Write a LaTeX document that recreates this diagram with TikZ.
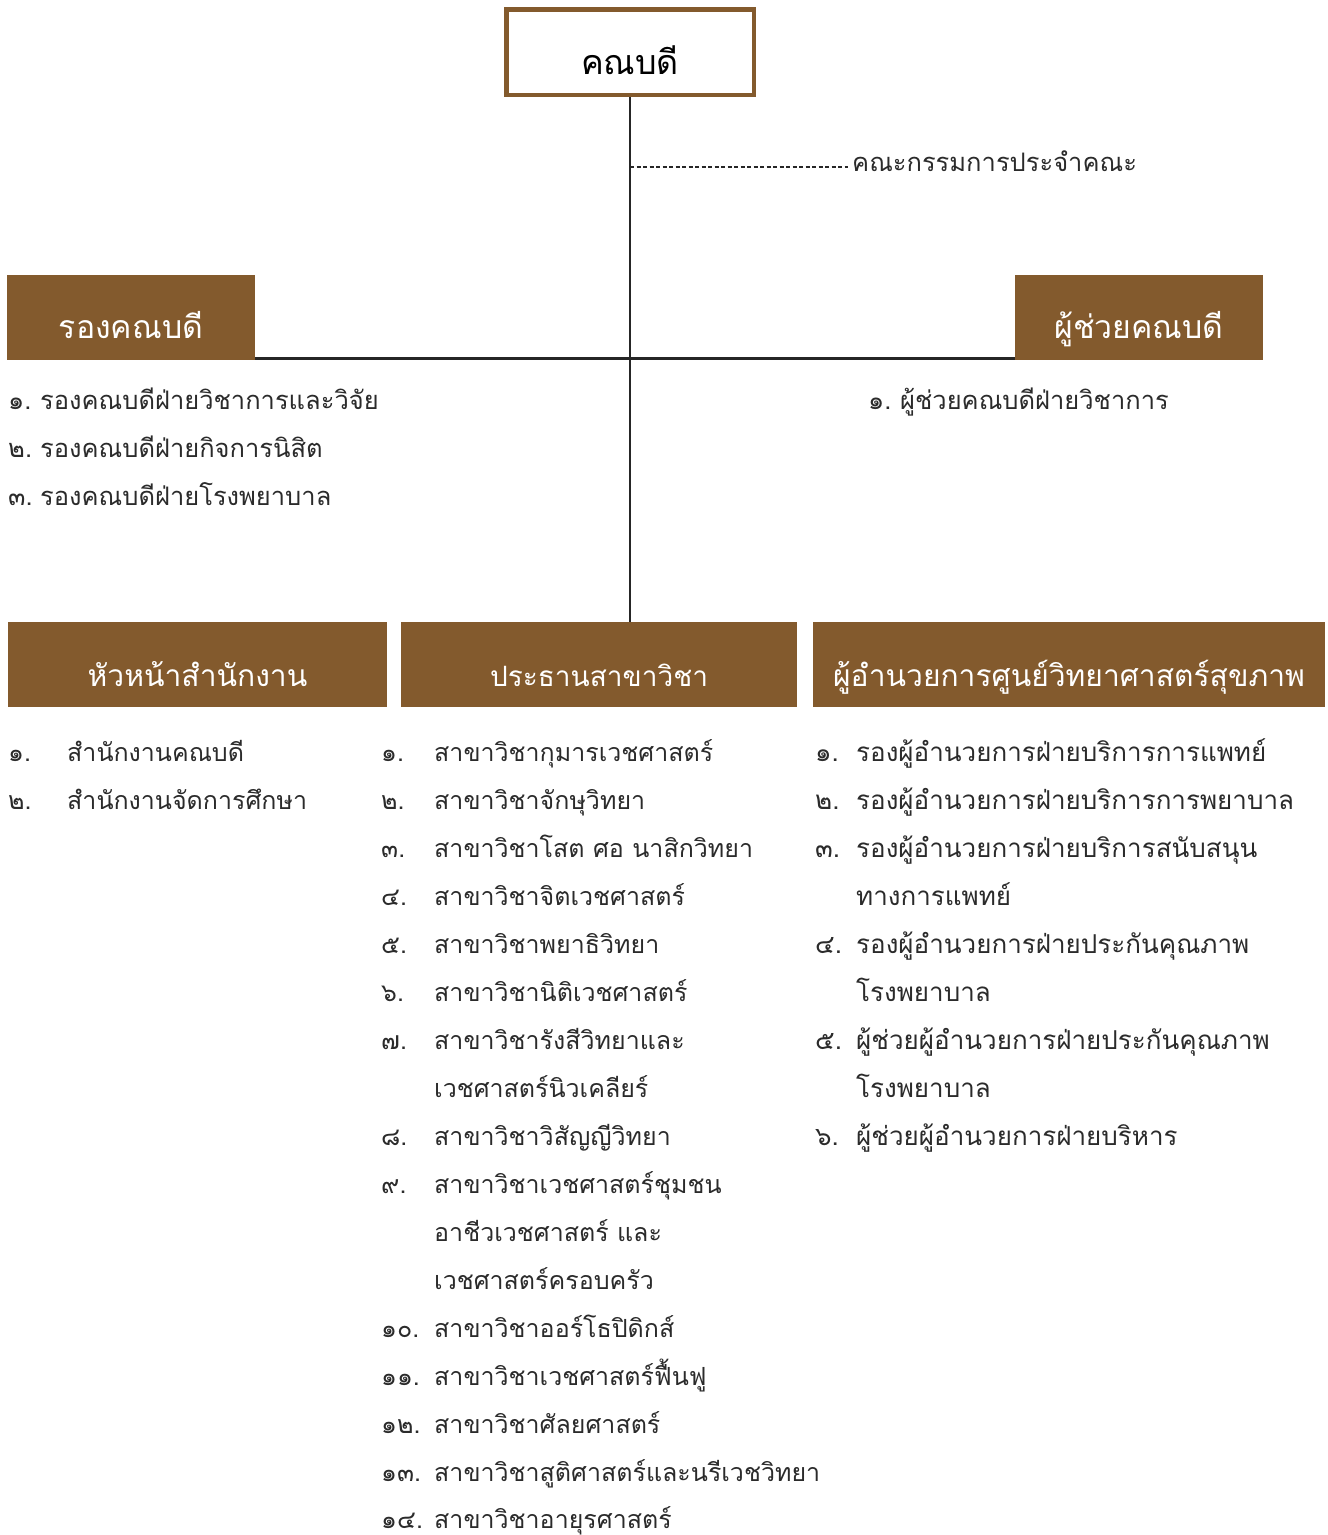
\documentclass[tikz,border=0pt]{standalone}
\usepackage{fontspec}
\newfontfamily\thai[Script=Thai]{Loma}
\definecolor{brn}{HTML}{835A2D}
\definecolor{txt}{HTML}{2B2B2B}
\definecolor{ln}{HTML}{262626}
\begin{document}
\begin{tikzpicture}[x=1pt,y=-1pt,
  hdr/.style={fill=brn, draw=none, minimum height=85, inner sep=0, anchor=north west},
  hlabel/.style={font=\thai\fontsize{30}{30}\selectfont, text=white, anchor=base, inner sep=0},
  itm/.style={font=\thai\fontsize{25}{25}\selectfont, text=txt, anchor=base west, inner sep=0},
  itmc/.style={font=\thai\fontsize{26}{26}\selectfont, text=txt, anchor=base west, inner sep=0},
  itmb/.style={font=\thai\fontsize{25.5}{25.5}\selectfont, text=txt, anchor=base west, inner sep=0},
  conn/.style={draw=ln, line width=1.6},
  hconn/.style={draw=ln, line width=2.4},
  dotconn/.style={draw=ln, line width=1.6, dash pattern=on 4pt off 2.5pt}]
\useasboundingbox (0,0) rectangle (1328,1535);

% top box
\node[draw=brn, line width=4.5, fill=white, minimum width=247.5, minimum height=85.5, inner sep=0] (dean) at (630,52) {};
\node[font=\thai\fontsize{34}{34}\selectfont, text=black, anchor=base, inner sep=0] (deanlbl) at (630,74) {คณบดี};

% committee
\node[itmb] (comm) at (852,171) {คณะกรรมการประจำคณะ};
\coordinate (dl) at (848,167);

% second level boxes
\node[hdr, minimum width=248] (vdean) at (7,275) {};
\node[hlabel, font=\thai\fontsize{32}{32}\selectfont] (vdeanlbl) at (131,338) {รองคณบดี};
\node[hdr, minimum width=248] (asst) at (1015,275) {};
\node[hlabel, font=\thai\fontsize{32}{32}\selectfont] (asstlbl) at (1139,338) {ผู้ช่วยคณบดี};

% third level boxes
\node[hdr, minimum width=379] (office) at (8,622) {};
\node[hlabel] (officelbl) at (197.5,686) {หัวหน้าสำนักงาน};
\node[hdr, minimum width=396] (prog) at (401,622) {};
\node[hlabel, font=\thai\fontsize{28}{28}\selectfont] (proglbl) at (599,686) {ประธานสาขาวิชา};
\node[hdr, minimum width=512] (center) at (813,622) {};
\node[hlabel] (centerlbl) at (1069,686) {ผู้อำนวยการศูนย์วิทยาศาสตร์สุขภาพ};

% connectors
\draw[conn] (dean.south) -- (dean.south |- prog.north);
\draw[hconn] ([yshift=2pt]vdean.south east) -- ([yshift=2pt]asst.south west);
\draw[dotconn] (dl -| dean.south) -- (dl);

% vice dean list
\node[itmb] (vd1n) at (8,409) {๑.};
\node[itmb] (vd1) at (40,409) {รองคณบดีฝ่ายวิชาการและวิจัย};
\node[itmb] (vd2n) at (8,457) {๒.};
\node[itmb] (vd2) at (40,457) {รองคณบดีฝ่ายกิจการนิสิต};
\node[itmb] (vd3n) at (8,505) {๓.};
\node[itmb] (vd3) at (40,505) {รองคณบดีฝ่ายโรงพยาบาล};
% assistant list
\node[itmb] (as1n) at (868,409) {๑.};
\node[itmb] (as1) at (900,409) {ผู้ช่วยคณบดีฝ่ายวิชาการ};

% column 1
\node[itm] (o1n) at (8,761) {๑.};
\node[itm] (o1t) at (67,761) {สำนักงานคณบดี};
\node[itm] (o2n) at (8,809) {๒.};
\node[itm] (o2t) at (67,809) {สำนักงานจัดการศึกษา};

% column 2
\node[itm] (p1n) at (381,761) {๑.};
\node[itm] (p1t) at (434,761) {สาขาวิชากุมารเวชศาสตร์};
\node[itm] (p2n) at (381,809) {๒.};
\node[itm] (p2t) at (434,809) {สาขาวิชาจักษุวิทยา};
\node[itm] (p3n) at (381,857) {๓.};
\node[itm] (p3t) at (434,857) {สาขาวิชาโสต ศอ นาสิกวิทยา};
\node[itm] (p4n) at (381,905) {๔.};
\node[itm] (p4t) at (434,905) {สาขาวิชาจิตเวชศาสตร์};
\node[itm] (p5n) at (381,953) {๕.};
\node[itm] (p5t) at (434,953) {สาขาวิชาพยาธิวิทยา};
\node[itm] (p6n) at (381,1001) {๖.};
\node[itm] (p6t) at (434,1001) {สาขาวิชานิติเวชศาสตร์};
\node[itm] (p7n) at (381,1049) {๗.};
\node[itm] (p7t) at (434,1049) {สาขาวิชารังสีวิทยาและ};
\node[itm] (p7u) at (434,1097) {เวชศาสตร์นิวเคลียร์};
\node[itm] (p8n) at (381,1145) {๘.};
\node[itm] (p8t) at (434,1145) {สาขาวิชาวิสัญญีวิทยา};
\node[itm] (p9n) at (381,1193) {๙.};
\node[itm] (p9t) at (434,1193) {สาขาวิชาเวชศาสตร์ชุมชน};
\node[itm] (p9u) at (434,1241) {อาชีวเวชศาสตร์ และ};
\node[itm] (p9v) at (434,1289) {เวชศาสตร์ครอบครัว};
\node[itm] (p10n) at (381,1337) {๑๐.};
\node[itm] (p10t) at (434,1337) {สาขาวิชาออร์โธปิดิกส์};
\node[itm] (p11n) at (381,1385) {๑๑.};
\node[itm] (p11t) at (434,1385) {สาขาวิชาเวชศาสตร์ฟื้นฟู};
\node[itm] (p12n) at (381,1433) {๑๒.};
\node[itm] (p12t) at (434,1433) {สาขาวิชาศัลยศาสตร์};
\node[itm] (p13n) at (381,1481) {๑๓.};
\node[itm] (p13t) at (434,1481) {สาขาวิชาสูติศาสตร์และนรีเวชวิทยา};
\node[itm] (p14n) at (381,1528) {๑๔.};
\node[itm] (p14t) at (434,1528) {สาขาวิชาอายุรศาสตร์};

% column 3
\node[itmc] (c1n) at (815,761) {๑.};
\node[itmc] (c1t) at (856,761) {รองผู้อำนวยการฝ่ายบริการการแพทย์};
\node[itmc] (c2n) at (815,809) {๒.};
\node[itmc] (c2t) at (856,809) {รองผู้อำนวยการฝ่ายบริการการพยาบาล};
\node[itmc] (c3n) at (815,857) {๓.};
\node[itmc] (c3t) at (856,857) {รองผู้อำนวยการฝ่ายบริการสนับสนุน};
\node[itmc] (c3u) at (856,905) {ทางการแพทย์};
\node[itmc] (c4n) at (815,953) {๔.};
\node[itmc] (c4t) at (856,953) {รองผู้อำนวยการฝ่ายประกันคุณภาพ};
\node[itmc] (c4u) at (856,1001) {โรงพยาบาล};
\node[itmc] (c5n) at (815,1049) {๕.};
\node[itmc] (c5t) at (856,1049) {ผู้ช่วยผู้อำนวยการฝ่ายประกันคุณภาพ};
\node[itmc] (c5u) at (856,1097) {โรงพยาบาล};
\node[itmc] (c6n) at (815,1145) {๖.};
\node[itmc] (c6t) at (856,1145) {ผู้ช่วยผู้อำนวยการฝ่ายบริหาร};
\end{tikzpicture}
\end{document}
